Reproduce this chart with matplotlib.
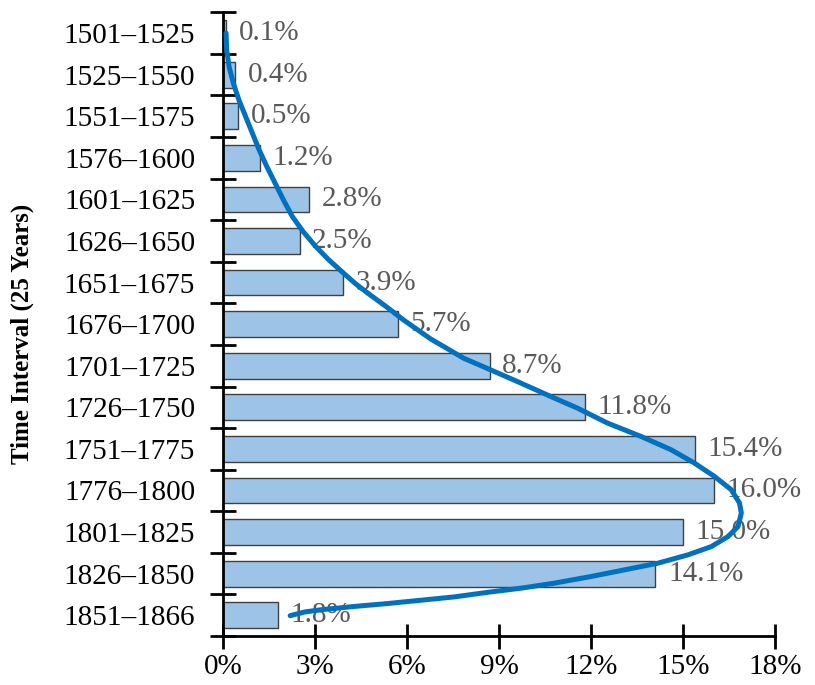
import matplotlib

matplotlib.use("Agg")
import matplotlib.pyplot as plt
from matplotlib.ticker import FixedLocator, FuncFormatter

# share of records per 25-year interval (percent)
intervals = [
    "1501–1525", "1525–1550", "1551–1575", "1576–1600", "1601–1625",
    "1626–1650", "1651–1675", "1676–1700", "1701–1725", "1726–1750",
    "1751–1775", "1776–1800", "1801–1825", "1826–1850", "1851–1866",
]
shares = [0.1, 0.4, 0.5, 1.2, 2.8, 2.5, 3.9, 5.7, 8.7, 11.8, 15.4, 16.0, 15.0, 14.1, 1.8]

# hand-drawn trend curve: percent vs. interval position (0 = top row)
trend_x = [0.10, 0.12, 0.20, 0.34, 0.52, 0.74, 0.96, 1.18, 1.43, 1.70,
           1.97, 2.26, 2.61, 3.01, 3.43, 3.88, 4.31, 4.75, 5.29, 5.89,
           6.76, 7.85, 8.73, 9.60, 10.69, 11.56, 12.54, 13.63, 14.61, 15.37,
           16.02, 16.57, 16.84, 16.90, 16.79, 16.46, 15.92, 15.15, 14.17, 13.08,
           11.99, 10.79, 9.71, 8.62, 7.53, 6.44, 5.35, 4.26, 3.17, 2.68, 2.19]
trend_y = [0.00, 0.41, 0.81, 1.21, 1.61, 2.01, 2.41, 2.81, 3.21, 3.61,
           4.01, 4.41, 4.77, 5.12, 5.44, 5.74, 6.02, 6.27, 6.56, 6.90,
           7.35, 7.82, 8.10, 8.38, 8.74, 9.02, 9.38, 9.70, 10.02, 10.34,
           10.66, 10.98, 11.30, 11.54, 11.87, 12.11, 12.35, 12.55, 12.75, 12.91,
           13.07, 13.23, 13.35, 13.45, 13.56, 13.64, 13.72, 13.79, 13.87, 13.92, 14.01]

x_ticks = [0, 3, 6, 9, 12, 15, 18]

plt.rcParams["font.family"] = ["Liberation Serif", "DejaVu Serif"]

fig = plt.figure(figsize=(8.15, 6.85), dpi=100)
ax = fig.add_axes([0.2736, 0.0715, 0.951 - 0.2736, 0.982 - 0.0715])

pos = list(range(len(intervals)))
bars = ax.barh(pos, shares, height=0.62, color="#9DC3E6",
               edgecolor="#404040", linewidth=1.0, zorder=2)
ax.bar_label(bars, labels=[f"{v:.1f}%" for v in shares], padding=9,
             fontsize=21, color="#595959", zorder=3)

ax.plot(trend_x, trend_y, color="#0070C0", linewidth=3.6,
        solid_capstyle="round", solid_joinstyle="round", zorder=4)

ax.set_xlim(0, 18)
ax.set_ylim(len(intervals) - 0.5, -0.5)

ax.set_xticks(x_ticks)
ax.xaxis.set_major_formatter(FuncFormatter(lambda v, _: f"{v:.0f}%"))
ax.tick_params(axis="x", direction="inout", length=18, width=2,
               labelsize=21, pad=4)

ax.set_yticks(pos)
ax.set_yticklabels(intervals)
ax.yaxis.set_minor_locator(FixedLocator([p - 0.5 for p in pos] + [len(pos) - 0.5]))
ax.tick_params(axis="y", which="major", length=0, labelsize=21, pad=20)
ax.tick_params(axis="y", which="minor", direction="inout", length=19, width=2)

for side in ("top", "right"):
    ax.spines[side].set_visible(False)
for side in ("left", "bottom"):
    ax.spines[side].set_linewidth(2)

ax.set_ylabel("Time Interval (25 Years)", fontsize=18, fontweight="bold")
ax.yaxis.set_label_coords(-0.342, 0.484)

fig.savefig("out.png", dpi=100)
